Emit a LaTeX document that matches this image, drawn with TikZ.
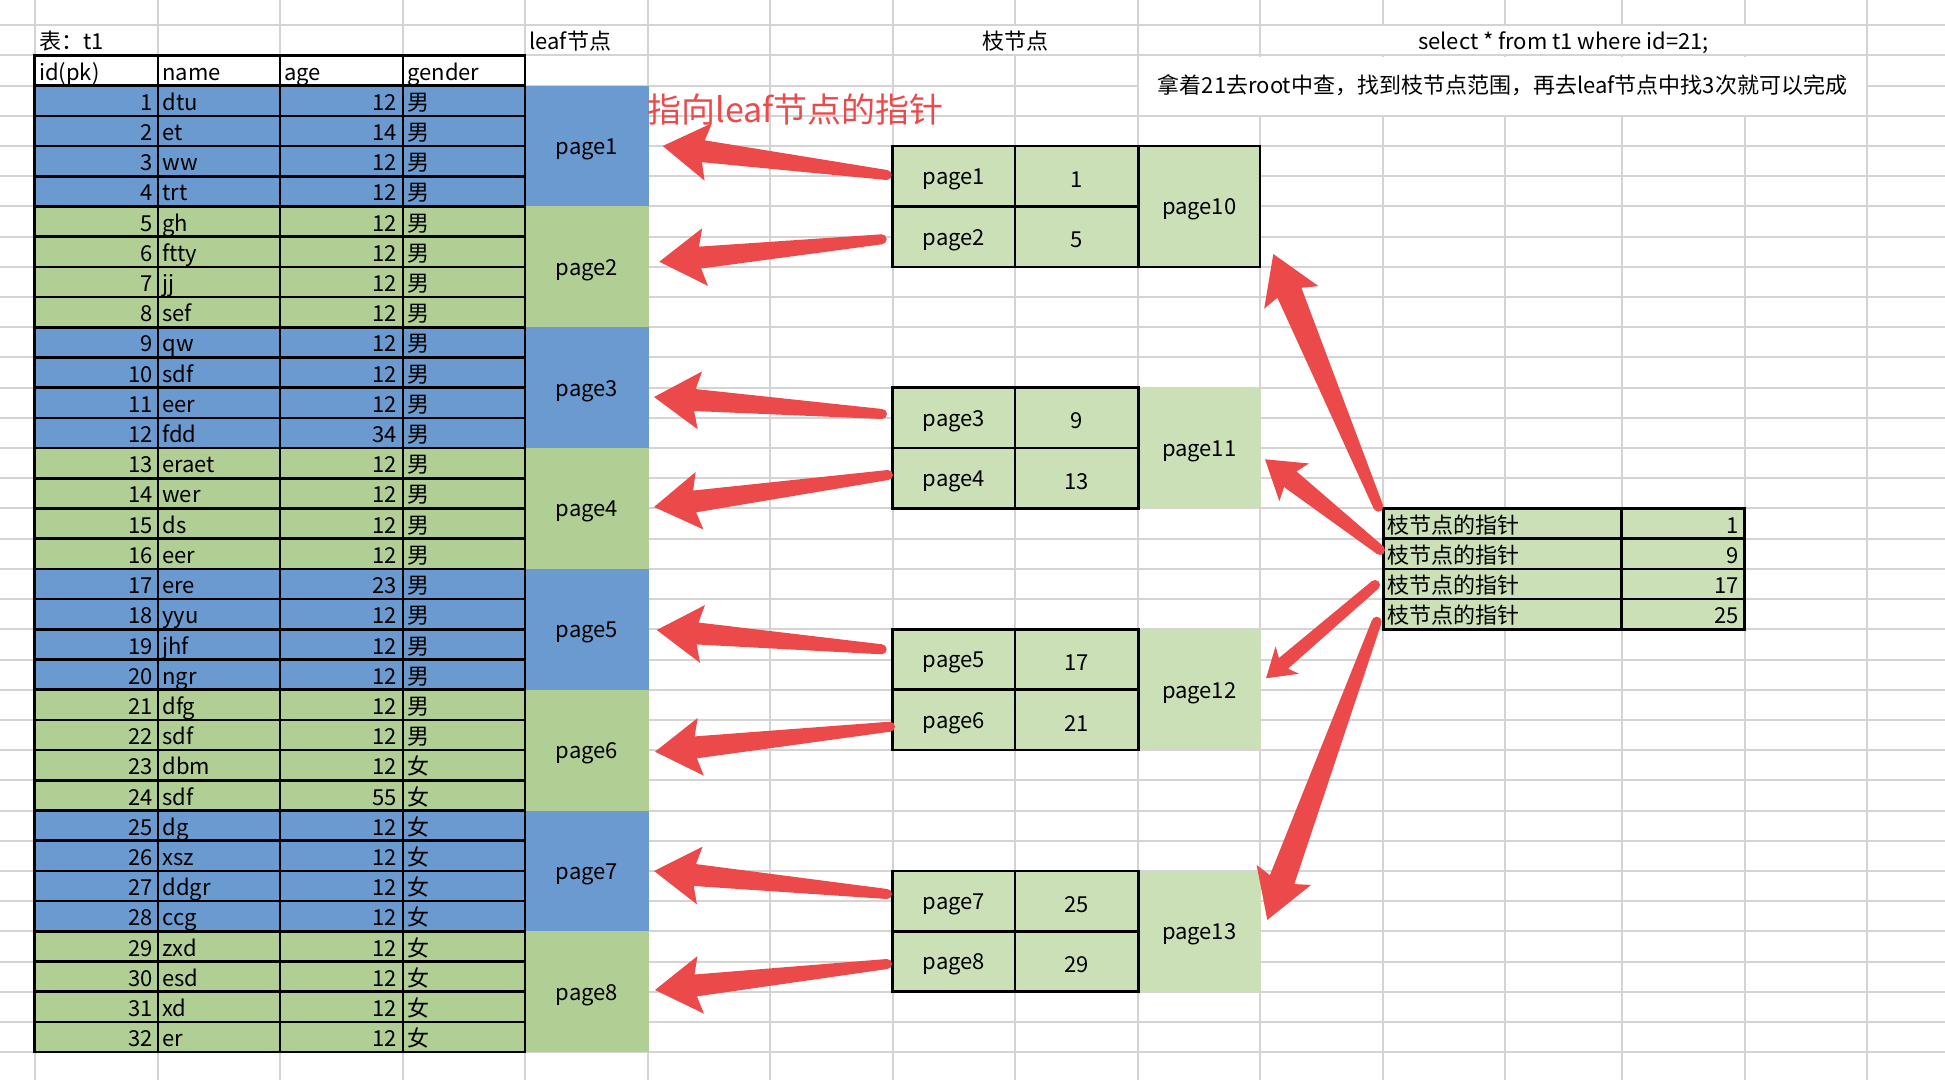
\documentclass[tikz,border=0pt]{standalone}
\usepackage{fontspec}
\setmainfont{Noto Sans CJK SC}
\usepackage{tikz}
\usetikzlibrary{calc}
\definecolor{gridgray}{HTML}{D4D4D4}
\definecolor{rowblue}{HTML}{6A9AD0}
\definecolor{rowgreen}{HTML}{B1CF94}
\definecolor{nodegreen}{HTML}{CCE0B7}
\definecolor{markred}{HTML}{EC4A4A}
\tikzset{
  gridline/.style={draw=gridgray, line width=1pt},
  cellline/.style={draw=black, line width=1.35pt},
  celltext/.style={inner sep=0pt, font=\fontsize{11}{13}\selectfont},
  pagetext/.style={inner sep=0pt, yshift=-1.6pt, font=\fontsize{11}{13}\selectfont},
  marktext/.style={inner sep=0pt, text=markred, font=\fontsize{17}{20}\selectfont}
}
% tail, tip, head length, head half width, neck half width
\newcommand{\redarrow}[5]{%
  \pgfmathsetlengthmacro{\necklen}{#3-2.5pt}
  \fill[markred] (#2)
    -- ($(#2)!#3!(#1)!#4!90:(#1)$)
    -- ($(#2)!\necklen!(#1)!#5!90:(#1)$)
    -- ($(#1)!2.5pt!-90:(#2)$)
    -- ($(#1)!2.5pt!90:(#2)$)
    -- ($(#2)!\necklen!(#1)!#5!-90:(#1)$)
    -- ($(#2)!#3!(#1)!#4!-90:(#1)$)
    -- cycle;
  \fill[markred] (#1) circle[radius=2.5pt];
}

\begin{document}
\begin{tikzpicture}[x=0.5pt,y=-0.5pt]
\useasboundingbox (0,0) rectangle (1945,1080);

% sheet grid
\foreach \gx in {34.8,158,280,403,525,648,770,892.7,1015,1138.2,1260.1,1383.4,1505,1621.8,1744.8,1866.8}
  \draw[gridline] (\gx,0) -- (\gx,1080);
\foreach \k in {-2,...,32}
  \draw[gridline] (0,{85.7+30.2*\k}) -- (1945,{85.7+30.2*\k});

% merged cells hide the grid
\fill[white] (893.7,26.4) rectangle (1137.2,54.4);
\fill[white] (1261.1,26.4) rectangle (1865.8,54.4);
\fill[white] (1139.2,56.6) rectangle (1865.8,114.8);

% captions
\node[celltext, anchor=base west] (title) at (39,50) {表：t1};
\node[celltext, anchor=base west] (leafcap) at (529,50) {leaf节点};
\node[celltext, anchor=base] (branchcap) at (1015.5,50) {枝节点};
\node[celltext, anchor=base] (query) at (1563.5,50) {select * from t1 where id=21;};
\node[celltext, anchor=base] (howto) at (1502.5,94) {拿着21去root中查，找到枝节点范围，再去leaf节点中找3次就可以完成};

% leaf pages
\foreach \p in {1,...,8} {
  \pgfmathsetmacro{\yt}{85.7+120.8*(\p-1)}
  \pgfmathtruncatemacro{\grp}{mod(\p,2)}
  \ifnum\grp=1 \def\rowfill{rowblue}\else\def\rowfill{rowgreen}\fi
  \fill[\rowfill] (525,\yt) rectangle (649,{\yt+120.8});
  \node[pagetext] (leaf\p) at (587,{\yt+60.4}) {page\p};
}

% table t1
\foreach \hx/\hw/\hn/\htxt in {34.8/158/id/id(pk), 158/280/name/name, 280/403/age/age, 403/525/gender/gender} {
  \draw[cellline, fill=white] (\hx,55.5) rectangle (\hw,85.7);
  \node[celltext, anchor=base west] (head-\hn) at ({\hx+4},80.2) {\htxt};
}
\foreach \id/\nm/\ag/\gd in {1/dtu/12/男, 2/et/14/男, 3/ww/12/男, 4/trt/12/男,
    5/gh/12/男, 6/ftty/12/男, 7/jj/12/男, 8/sef/12/男,
    9/qw/12/男, 10/sdf/12/男, 11/eer/12/男, 12/fdd/34/男,
    13/eraet/12/男, 14/wer/12/男, 15/ds/12/男, 16/eer/12/男,
    17/ere/23/男, 18/yyu/12/男, 19/jhf/12/男, 20/ngr/12/男,
    21/dfg/12/男, 22/sdf/12/男, 23/dbm/12/女, 24/sdf/55/女,
    25/dg/12/女, 26/xsz/12/女, 27/ddgr/12/女, 28/ccg/12/女,
    29/zxd/12/女, 30/esd/12/女, 31/xd/12/女, 32/er/12/女} {
  \pgfmathsetmacro{\yt}{85.7+30.2*(\id-1)}
  \pgfmathsetmacro{\yb}{\yt+30.2}
  \pgfmathtruncatemacro{\grp}{mod(int((\id-1)/4),2)}
  \ifnum\grp=0 \def\rowfill{rowblue}\else\def\rowfill{rowgreen}\fi
  \draw[cellline, fill=\rowfill] (34.8,\yt) rectangle (158,\yb) (158,\yt) rectangle (280,\yb)
    (280,\yt) rectangle (403,\yb) (403,\yt) rectangle (525,\yb);
  \node[celltext, anchor=base east] (id\id) at (153,{\yb-5.5}) {\id};
  \node[celltext, anchor=base west] (nm\id) at (162,{\yb-5.5}) {\nm};
  \node[celltext, anchor=base east] (ag\id) at (397.5,{\yb-5.5}) {\ag};
  \node[celltext, anchor=base west] (gd\id) at (407,{\yb-5.5}) {\gd};
}

% branch nodes
\foreach \b/\pa/\ka/\pb/\kb/\pr in {0/1/1/2/5/10, 1/3/9/4/13/11, 2/5/17/6/21/12, 3/7/25/8/29/13} {
  \pgfmathsetmacro{\yt}{146.1+241.6*\b}
  \fill[nodegreen] (1138.2,\yt) rectangle (1261,{\yt+120.8});
  \ifnum\b=0 \draw[cellline] (1138.2,\yt) rectangle (1260.1,{\yt+120.8}); \fi
  \draw[cellline, fill=nodegreen] (892.7,\yt) rectangle (1015,{\yt+60.4})
    (1015,\yt) rectangle (1138.2,{\yt+60.4})
    (892.7,{\yt+60.4}) rectangle (1015,{\yt+120.8})
    (1015,{\yt+60.4}) rectangle (1138.2,{\yt+120.8});
  \node[pagetext] (bp\pa) at (953.9,{\yt+30.2}) {page\pa};
  \node[pagetext] (bk\pa) at (1076.6,{\yt+30.2}) {\ka};
  \node[pagetext] (bp\pb) at (953.9,{\yt+90.6}) {page\pb};
  \node[pagetext] (bk\pb) at (1076.6,{\yt+90.6}) {\kb};
  \node[pagetext] (bp\pr) at (1199.2,{\yt+60.4}) {page\pr};
}

% root node
\foreach \r/\v in {0/1, 1/9, 2/17, 3/25} {
  \pgfmathsetmacro{\yt}{508.5+30.2*\r}
  \draw[cellline, fill=nodegreen] (1383.4,\yt) rectangle (1621.8,{\yt+30.2})
    (1621.8,\yt) rectangle (1744.8,{\yt+30.2});
  \node[celltext, anchor=base west] (rt\r) at (1387.5,{\yt+24.7}) {枝节点的指针};
  \node[celltext, anchor=base east] (rv\r) at (1739.5,{\yt+24.7}) {\v};
}

% pointers to leaf pages
\foreach \k/\tx/\ty/\hx/\hy in {1/886.7/175/662.7/146, 2/881.7/239.3/659.3/261.7,
    3/882/414/654/397, 4/888/475/654/507, 5/881.7/649.3/656.7/630,
    6/890/726.7/655/751.7, 7/887/894/654/871, 8/887/964/655/990} {
  \coordinate (lt\k) at (\tx,\ty);
  \coordinate (lh\k) at (\hx,\hy);
  \redarrow{lt\k}{lh\k}{23pt}{14.5pt}{5.5pt}
}

% pointers to branch nodes
\coordinate (rt10) at (1378.3,506.7); \coordinate (rh10) at (1273.3,254);
\coordinate (rt11) at (1380,550);     \coordinate (rh11) at (1265,459.3);
\coordinate (rt12) at (1375,585);     \coordinate (rh12) at (1266,678.3);
\coordinate (rt13) at (1376.7,621.7); \coordinate (rh13) at (1267.3,920);
\redarrow{rt10}{rh10}{23.5pt}{14.7pt}{6.5pt}
\redarrow{rt11}{rh11}{18.6pt}{12pt}{5pt}
\redarrow{rt12}{rh12}{14pt}{9pt}{3.5pt}
\redarrow{rt13}{rh13}{24pt}{14.5pt}{6.5pt}

\node[marktext, anchor=base west] (pointercap) at (647,123) {指向leaf节点的指针};
\end{tikzpicture}
\end{document}
